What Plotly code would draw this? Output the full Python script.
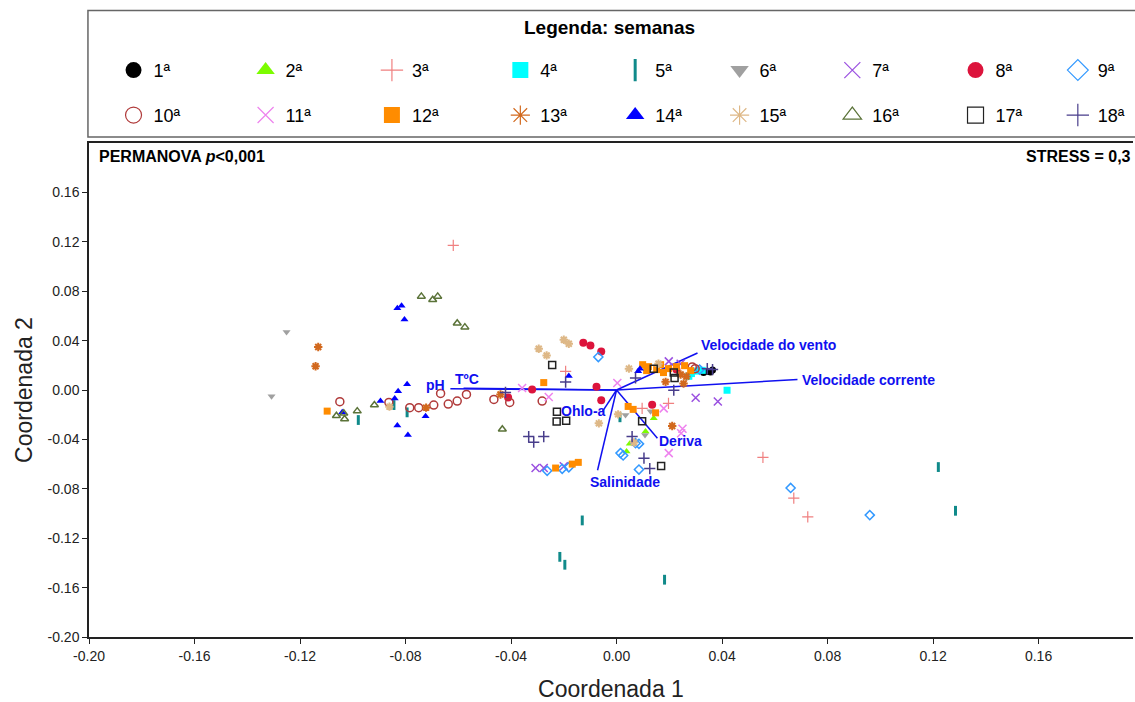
import plotly.graph_objects as go

# nMDS sample scores per sampling week (Coordenada 1, Coordenada 2)
wk1_x = [0.0330, 0.0345, 0.0356, 0.0364]
wk1_y = [0.0141, 0.0151, 0.0145, 0.0161]
wk2_x = [0.0141, 0.0110, 0.0050, 0.0038]
wk2_y = [-0.0229, -0.0337, -0.0436, -0.0498]
wk3_x = [-0.0619, -0.0193, 0.0097, 0.0197, 0.0555, 0.0672, 0.0725]
wk3_y = [0.1171, 0.0151, -0.0149, -0.0109, -0.0546, -0.0876, -0.1027]
wk4_x = [0.0419, 0.0274, 0.0325, 0.0303, 0.0284]
wk4_y = [-0.0002, 0.0111, 0.0159, 0.0153, 0.0133]
wk5_x = [-0.0979, -0.0844, -0.0794, 0.0013, -0.0130, -0.0215, -0.0196, 0.0182, 0.1220, 0.1285]
wk5_y = [-0.0243, -0.0122, -0.0181, -0.0221, -0.1056, -0.1351, -0.1415, -0.1536, -0.0624, -0.0978]
wk6_x = [-0.1251, -0.1308, 0.0034, 0.0108, 0.0129]
wk6_y = [0.0469, -0.0050, -0.0203, -0.0364, -0.0173]
wk7_x = [0.0300, 0.0384, -0.0307, -0.0276, -0.0200, 0.0198, 0.0243]
wk7_y = [-0.0062, -0.0093, -0.0632, -0.0632, -0.0618, 0.0232, 0.0213]
wk8_x = [-0.0126, -0.0099, -0.0058, -0.0320, -0.0076, -0.0411, -0.0058, 0.0135, 0.0227]
wk8_y = [0.0382, 0.0361, 0.0312, 0.0004, 0.0026, -0.0060, -0.0082, -0.0119, 0.0165]
wk9_x = [-0.0069, 0.0015, 0.0025, 0.0072, 0.0085, 0.0085, -0.0263, -0.0206, -0.0181, 0.0660, 0.0960, 0.0315]
wk9_y = [0.0267, -0.0511, -0.0530, -0.0431, -0.0436, -0.0644, -0.0654, -0.0638, -0.0626, -0.0793, -0.1013, 0.0165]
wk10_x = [-0.1049, -0.0863, -0.0784, -0.0750, -0.0693, -0.0667, -0.0638, -0.0604, -0.0569, -0.0465, -0.0405, -0.0282, 0.0287, 0.0298]
wk10_y = [-0.0095, -0.0101, -0.0143, -0.0143, -0.0122, -0.0028, -0.0114, -0.0090, -0.0036, -0.0076, -0.0101, -0.0090, 0.0187, 0.0173]
wk11_x = [-0.0358, -0.0257, 0.0003, 0.0179, 0.0250, 0.0245, 0.0198]
wk11_y = [0.0016, -0.0056, 0.0056, -0.0149, -0.0314, -0.0350, -0.0511]
wk12_x = [-0.1097, -0.0276, 0.0044, 0.0063, 0.0148, -0.0231, -0.0168, -0.0145,
          0.0099, 0.0121, 0.0167, 0.0197, 0.0227, 0.0258, 0.0178, 0.0114, 0.0152, 0.0281]
wk12_y = [-0.0171, 0.0060, -0.0133, -0.0157, -0.0185, -0.0632, -0.0600, -0.0586,
          0.0205, 0.0189, 0.0205, 0.0173, 0.0189, 0.0197, 0.0141, 0.0157, 0.0165, 0.0157]
wk13_x = [-0.1131, -0.1141, -0.0722, -0.0440, 0.0211, 0.0186, 0.0254, 0.0265, 0.0243]
wk13_y = [0.0348, 0.0192, -0.0143, -0.0036, -0.0291, 0.0066, 0.0052, 0.0109, 0.0125]
wk14_x = [-0.0804, -0.0831, -0.0815, -0.0794, -0.0828, -0.0841, -0.0895, -0.1040, -0.0724, -0.0831, -0.0791, -0.0181, 0.0082, 0.0089]
wk14_y = [0.0570, 0.0662, 0.0683, 0.0047, -0.0010, -0.0068, -0.0090, -0.0181, -0.0213, -0.0288, -0.0364, 0.0113, 0.0151, 0.0173]
wk15_x = [-0.0861, -0.0295, -0.0265, -0.0200, -0.0181, 0.0047, -0.0067, 0.0066, 0.0006, 0.0159]
wk15_y = [-0.0135, 0.0334, 0.0280, 0.0407, 0.0374, 0.0173, -0.0270, -0.0425, -0.0197, 0.0213]
wk16_x = [-0.0740, -0.0697, -0.0678, -0.0604, -0.0575, -0.1062, -0.1034, -0.1031, -0.0983, -0.0918, -0.0433]
wk16_y = [0.0758, 0.0731, 0.0758, 0.0541, 0.0509, -0.0208, -0.0189, -0.0235, -0.0171, -0.0122, -0.0318]
wk17_x = [-0.0244, -0.0226, -0.0227, -0.0191, 0.0097, 0.0169, 0.0141, 0.0217, 0.0220]
wk17_y = [0.0203, -0.0176, -0.0256, -0.0248, -0.0254, -0.0616, 0.0173, 0.0141, 0.0098]
wk18_x = [-0.0421, -0.0333, -0.0314, -0.0276, -0.0193, 0.0072, 0.0217, 0.0059, 0.0104, 0.0126, 0.0344, 0.0364]
wk18_y = [-0.0020, -0.0377, -0.0423, -0.0377, 0.0064, 0.0097, -0.0002, -0.0377, -0.0552, -0.0636, 0.0173, 0.0165]

week_labels = ["1ª", "2ª", "3ª", "4ª", "5ª", "6ª", "7ª", "8ª", "9ª",
               "10ª", "11ª", "12ª", "13ª", "14ª", "15ª", "16ª", "17ª", "18ª"]

# Environmental vectors (end points of the fitted arrows)
env_names = ["Velocidade do vento", "Velocidade corrente", "pH", "TºC", "Ohlo-a", "Salinidade", "Deriva"]
env_x = [0.0307, 0.0686, -0.0630, -0.0580, -0.0053, -0.0072, 0.0155]
env_y = [0.0300, 0.0085, 0.0010, 0.0015, -0.0173, -0.0650, -0.0390]

xs = [wk1_x, wk2_x, wk3_x, wk4_x, wk5_x, wk6_x, wk7_x, wk8_x, wk9_x,
      wk10_x, wk11_x, wk12_x, wk13_x, wk14_x, wk15_x, wk16_x, wk17_x, wk18_x]
ys = [wk1_y, wk2_y, wk3_y, wk4_y, wk5_y, wk6_y, wk7_y, wk8_y, wk9_y,
      wk10_y, wk11_y, wk12_y, wk13_y, wk14_y, wk15_y, wk16_y, wk17_y, wk18_y]

# symbol, colour, plot size, outline width
styles = [
    ("circle", "#000000", 7, 0),
    ("triangle-up", "#7CFC00", 7, 0),
    ("cross-thin-open", "#F08080", 8, 1.2),
    ("square", "#00FFFF", 7, 0),
    ("line-ns-open", "#108A8A", 7, 3),
    ("triangle-down", "#A0A0A0", 7, 0),
    ("x-thin-open", "#9A4FE0", 8, 1.5),
    ("circle", "#DC143C", 8, 0),
    ("diamond-open", "#3399FF", 7, 1.5),
    ("circle-open", "#B03A3A", 8, 1.5),
    ("x-thin-open", "#EE82EE", 8, 1.5),
    ("square", "#FF8C00", 7, 0),
    ("asterisk-open", "#D2691E", 7, 2),
    ("triangle-up", "#0000FF", 7, 0),
    ("asterisk-open", "#DEB887", 7, 2),
    ("triangle-up-open", "#5B7339", 7, 1.5),
    ("square-open", "#222222", 7, 1.5),
    ("cross-thin-open", "#483D8B", 8, 1.5),
]

# legend key columns (paper x of each key's left edge) and rows (paper y)
legend_cols = [0.0235, 0.150, 0.271, 0.394, 0.504, 0.604, 0.712, 0.830, 0.928]
legend_rows = [1.147, 1.056]

fig = go.Figure()

VEC_COLOR = "#1010F0"

# arrows from the origin
for ex, ey in zip(env_x, env_y):
    fig.add_trace(go.Scatter(x=[0, ex], y=[0, ey], mode="lines",
                             line=dict(color=VEC_COLOR, width=1.5),
                             showlegend=False, hoverinfo="skip"))

legend_layouts = {}
for i, (sym, col, size, lw) in enumerate(styles):
    is_open = sym.endswith("-open")
    marker = dict(symbol=sym, size=size, color=col,
                  line=dict(color=col, width=lw if is_open else 0))
    fig.add_trace(go.Scatter(x=xs[i], y=ys[i], mode="markers", marker=marker,
                             name=week_labels[i], showlegend=False))
    # legend key (larger symbol), one small legend per key
    lname = "legend" if i == 0 else "legend%d" % (i + 1)
    lmarker = dict(symbol=sym, size=16, color=col,
                   line=dict(color=col, width=(3 if sym == "line-ns-open" else 1.2) if is_open else 0))
    fig.add_trace(go.Scatter(x=[None], y=[None], mode="markers", marker=lmarker,
                             name=week_labels[i], legend=lname))
    legend_layouts[lname] = dict(
        x=legend_cols[i % 9], y=legend_rows[i // 9], xanchor="left", yanchor="middle",
        orientation="h", itemsizing="trace", bgcolor="rgba(0,0,0,0)", borderwidth=0,
        font=dict(family="Arial, Liberation Sans", size=18, color="#000"))

# vector labels
label_pos = [
    dict(xshift=1, yshift=8, xanchor="left", yanchor="middle"),
    dict(xshift=3, yshift=0, xanchor="left", yanchor="middle"),
    dict(xshift=-3, yshift=4, xanchor="right", yanchor="middle"),
    dict(xshift=-11, yshift=9, xanchor="left", yanchor="middle"),
    dict(xshift=5, yshift=0, xanchor="right", yanchor="middle"),
    dict(xshift=27, yshift=-12, xanchor="center", yanchor="middle"),
    dict(xshift=0, yshift=-3, xanchor="left", yanchor="middle"),
]
for name, ex, ey, pos in zip(env_names, env_x, env_y, label_pos):
    fig.add_annotation(x=ex, y=ey, text="<b>%s</b>" % name, showarrow=False,
                       font=dict(family="Arial, Liberation Sans", size=14, color=VEC_COLOR),
                       **pos)

fig.add_annotation(xref="paper", yref="paper", x=0.008, y=0.972, xanchor="left", yanchor="middle",
                   text="<b>PERMANOVA <i>p</i>&lt;0,001</b>", showarrow=False,
                   font=dict(family="Arial, Liberation Sans", size=16, color="#000"))
fig.add_annotation(xref="paper", yref="paper", x=1.0, y=0.972, xanchor="right", yanchor="middle",
                   text="<b>STRESS = 0,3</b>", showarrow=False,
                   font=dict(family="Arial, Liberation Sans", size=16, color="#000"))

# legend title and frame
fig.add_annotation(xref="paper", yref="paper", x=0.499, y=1.233, xanchor="center", yanchor="middle",
                   text="<b>Legenda: semanas</b>", showarrow=False,
                   font=dict(family="Arial, Liberation Sans", size=19, color="#000"))
fig.add_shape(type="rect", xref="paper", yref="paper", x0=-0.001, x1=1.05, y0=1.012, y1=1.268,
              line=dict(color="#666666", width=1.5), fillcolor="rgba(0,0,0,0)", layer="above")

tick_vals = [-0.20, -0.16, -0.12, -0.08, -0.04, 0.00, 0.04, 0.08, 0.12, 0.16]

fig.update_layout(
    width=1135, height=702,
    margin=dict(l=89, r=2, t=143, b=62),
    paper_bgcolor="white", plot_bgcolor="white",
    font=dict(family="Arial, Liberation Sans", color="#222"),
    xaxis=dict(range=[-0.20, 0.1958], tickvals=tick_vals,
               ticktext=["%.2f" % v for v in tick_vals],
               showgrid=False, zeroline=False, showline=True, mirror=True,
               linecolor="#222", linewidth=1.5, ticks="outside", ticklen=5,
               tickcolor="#222", tickfont=dict(size=14, color="#222"),
               title=dict(text="Coordenada 1", font=dict(size=23, color="#222"), standoff=20)),
    yaxis=dict(range=[-0.20, 0.20], tickvals=tick_vals,
               ticktext=["%.2f" % v for v in tick_vals],
               showgrid=False, zeroline=False, showline=True, mirror=False,
               linecolor="#222", linewidth=1.5, ticks="outside", ticklen=5,
               tickcolor="#222", tickfont=dict(size=14, color="#222"),
               title=dict(text="Coordenada 2", font=dict(size=23, color="#222"), standoff=8)),
    **legend_layouts,
)

fig.write_html("out.html")
